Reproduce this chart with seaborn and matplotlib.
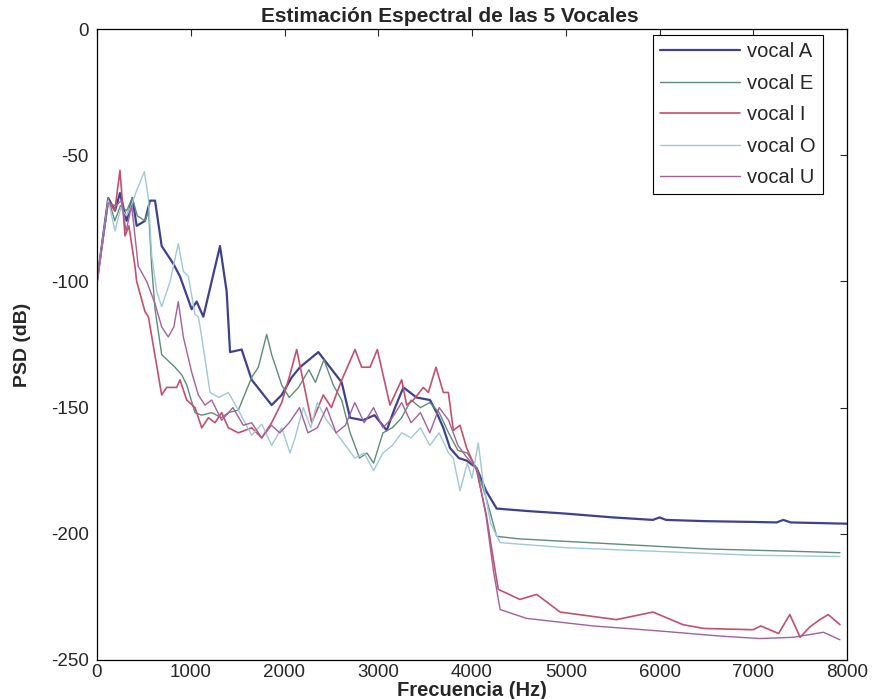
import matplotlib
matplotlib.use("Agg")
import matplotlib.pyplot as plt
import numpy as np
import pandas as pd
import seaborn as sns

# ---- data ----
vocals = ["vocal A", "vocal E", "vocal I", "vocal O", "vocal U"]

freq_A = [0, 120, 192, 245, 316, 377, 423, 512, 565, 619, 690, 814, 885, 1010, 1063, 1134, 1312, 1383, 1419, 1543,
          1650, 1863, 1970, 2077, 2165, 2361, 2464, 2610, 2699, 2837, 2960, 3090, 3179, 3268, 3409, 3552, 3623, 3694,
          3765, 3860, 3943, 4050, 4150, 4263, 4600, 5000, 5500, 5930, 6000, 6070, 6500, 7000, 7250, 7320, 7400, 8000]
psd_A = [-100, -67, -72, -65, -76, -67, -78, -76, -68, -68, -86, -93, -98, -111, -108, -114, -86, -104, -128, -127,
         -139, -149, -145, -138, -134, -128, -133, -140, -154, -155, -153, -159, -150, -142, -146, -147, -152, -158,
         -166, -170, -171, -174, -183, -190, -191, -192, -193.5, -194.5, -193.5, -194.5, -195, -195.3, -195.5,
         -194.5, -195.5, -196]

freq_E = [0, 120, 190, 250, 316, 377, 430, 512, 550, 583, 619, 690, 832, 903, 957, 1045, 1117, 1223, 1330, 1401,
          1508, 1650, 1721, 1810, 1863, 1970, 2050, 2150, 2260, 2330, 2420, 2520, 2610, 2700, 2800, 2880, 2950, 3050,
          3150, 3250, 3350, 3450, 3550, 3650, 3750, 3850, 3950, 4050, 4157, 4263, 4500, 5000, 5500, 6000, 6500, 7000,
          7500, 7925]
psd_E = [-100, -67, -76, -70, -72, -67, -74, -76, -72, -94, -111, -129, -134, -137, -141, -152, -153, -152, -154, -152,
         -151, -138, -134, -121, -129, -141, -146, -142, -135, -140, -131, -141, -147, -160, -170, -168, -172, -160,
         -158, -154, -147, -150, -148, -152, -160, -167, -168, -174, -186.5, -201, -202, -203, -204, -205, -206,
         -206.5, -207, -207.5]

freq_I = [0, 120, 190, 245, 299, 340, 405, 423, 512, 548, 690, 743, 850, 885, 957, 1045, 1117, 1188, 1259, 1330,
          1401, 1508, 1650, 1757, 1863, 1970, 2050, 2130, 2290, 2414, 2500, 2600, 2752, 2823, 2912, 2990, 3125, 3250,
          3303, 3374, 3481, 3534, 3616, 3694, 3748, 3801, 3872, 3943, 4050, 4150, 4227, 4280, 4510, 4690, 4940, 5540,
          5930, 6250, 6470, 7000, 7080, 7270, 7390, 7500, 7600, 7710, 7800, 7925]
psd_I = [-100, -68, -72, -56, -82, -78, -94, -100, -112, -114, -145, -142, -142, -139, -147, -150, -158, -154, -156,
         -152, -158, -160, -158, -162, -156, -148, -138, -127, -156, -145, -150, -140, -127, -134, -134, -127, -149,
         -139, -149, -147, -142, -144, -134, -144, -144, -159, -157, -166, -175, -192, -210, -222, -226, -224, -231,
         -234, -231, -236, -237.5, -238, -236.5, -239.5, -232, -241, -237, -234, -232, -236]

freq_O = [0, 121, 192, 253, 316, 370, 423, 505, 548, 583, 637, 690, 780, 867, 921, 974, 1045, 1081, 1117, 1206,
          1300, 1401, 1508, 1650, 1757, 1863, 1970, 2059, 2112, 2200, 2280, 2350, 2450, 2550, 2650, 2750, 2850, 2950,
          3050, 3150, 3250, 3350, 3450, 3550, 3650, 3750, 3800, 3872, 3950, 4000, 4067, 4120, 4200, 4300, 5000, 6000,
          7000, 7925]
psd_O = [-100, -68, -80, -71, -74, -69.5, -64, -56.5, -67, -89.5, -104, -110, -100, -85, -96, -98, -113, -114, -122,
         -144, -146, -144, -151, -161, -156.5, -165, -158, -168, -162, -150, -158, -148, -155, -160, -165, -170, -168,
         -175, -168, -165, -160, -162, -158, -165, -160, -168, -170, -183, -172, -178, -164, -180, -196, -203.5,
         -205.5, -207, -208.5, -209]

freq_U = [0, 120, 200, 260, 310, 370, 440, 530, 620, 690, 760, 820, 867, 921, 1010, 1081, 1152, 1223, 1330, 1450,
          1560, 1650, 1757, 1860, 1950, 2050, 2160, 2250, 2350, 2450, 2550, 2650, 2750, 2850, 2950, 3050, 3150, 3250,
          3350, 3450, 3550, 3650, 3750, 3850, 3950, 4050, 4150, 4230, 4300, 4580, 5290, 6000, 6640, 7070, 7430, 7750,
          7925]
psd_U = [-100, -69, -70, -68, -80, -70, -94, -100, -109, -118, -122, -118, -108, -122, -136, -145, -149, -147, -155,
         -150, -157, -156, -162, -157, -160, -156, -150, -160, -158, -150, -160, -157, -148, -156, -150, -158, -154,
         -148, -156, -152, -160, -150, -155, -165, -170, -174, -193, -215, -230, -233.5, -236.5, -238.5, -240.5,
         -241.5, -241, -239, -242]

x_ticks = [0, 1000, 2000, 3000, 4000, 5000, 6000, 7000, 8000]
y_ticks = [-250, -200, -150, -100, -50, 0]

series = {
    "vocal A": (freq_A, psd_A),
    "vocal E": (freq_E, psd_E),
    "vocal I": (freq_I, psd_I),
    "vocal O": (freq_O, psd_O),
    "vocal U": (freq_U, psd_U),
}
df = pd.concat(
    [pd.DataFrame({"freq": f, "psd": p, "vocal": name}) for name, (f, p) in series.items()],
    ignore_index=True,
)

colors = {"vocal A": "#3d418e", "vocal E": "#5f8c78", "vocal I": "#c4506c",
          "vocal O": "#9fc8d8", "vocal U": "#a2609c"}
widths = {"vocal A": 1.6, "vocal E": 1.0, "vocal I": 1.2, "vocal O": 1.0, "vocal U": 1.0}

# ---- style ----
sns.set_style("white")
plt.rcParams["font.family"] = ["Liberation Sans", "DejaVu Sans"]

fig = plt.figure(figsize=(8.76, 6.99), dpi=100)
W, H = 876, 699
left, right, top, bottom = 97, 847, 29, 660
ax = fig.add_axes([left / W, (H - bottom) / H, (right - left) / W, (bottom - top) / H])

for name in vocals:
    sub = df[df["vocal"] == name]
    sns.lineplot(data=sub, x="freq", y="psd", color=colors[name], lw=widths[name],
                 label=name, ax=ax, estimator=None, sort=False)

ax.set_xlim(0, 8000)
ax.set_ylim(-250, 0)
ax.set_xticks(x_ticks)
ax.set_yticks(y_ticks)
ax.set_xticklabels([str(v) for v in x_ticks])
ax.set_yticklabels([str(v) for v in y_ticks])
ax.tick_params(direction="in", top=True, right=True, labelsize=13.5, length=5, width=0.8)
ax.tick_params(axis="x", pad=3)
ax.tick_params(axis="y", pad=6)
for sp in ax.spines.values():
    sp.set_color("black")
    sp.set_linewidth(0.9)

ax.set_title("Estimación Espectral de las 5 Vocales", fontsize=15, fontweight="bold", pad=5, x=0.47)
ax.set_xlabel("Frecuencia (Hz)", fontsize=14.5, fontweight="bold", labelpad=0)
ax.set_ylabel("PSD (dB)", fontsize=14, fontweight="bold", labelpad=14)

leg = ax.legend(loc="upper right", bbox_to_anchor=(0.968, 0.99), borderaxespad=0,
                frameon=True, fancybox=False, edgecolor="black", framealpha=1,
                fontsize=14.5, handlelength=4.0, handletextpad=0.35, labelspacing=0.62,
                borderpad=0.35)
leg.get_frame().set_linewidth(0.8)

fig.savefig("out.png", dpi=100)
